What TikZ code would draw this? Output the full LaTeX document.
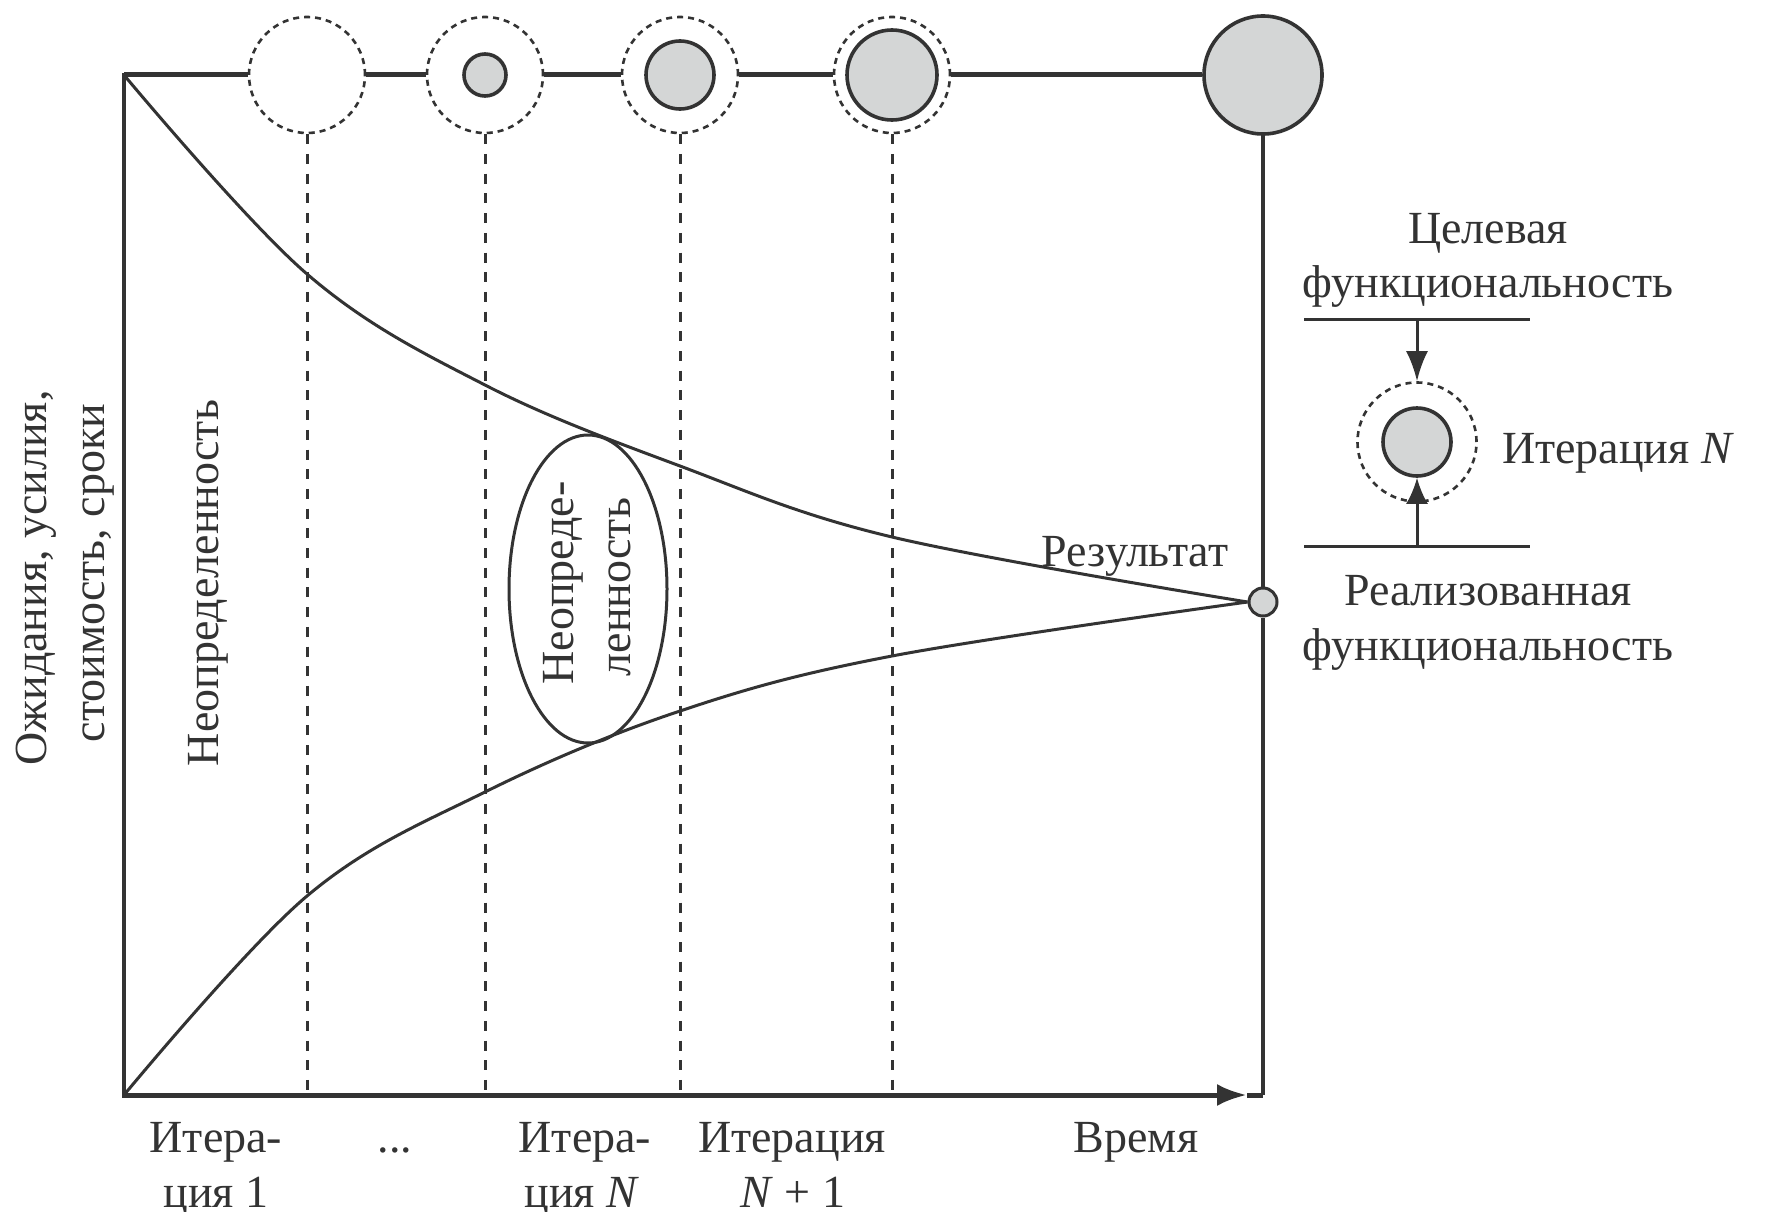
\documentclass[tikz,border=0pt]{standalone}
\usepackage{fontspec}
\setmainfont{Liberation Serif}
\usetikzlibrary{arrows.meta,shapes.geometric}
\definecolor{ink}{HTML}{333333}
\definecolor{disc}{HTML}{D4D6D6}
\tikzset{
  axisline/.style={draw=ink,line width=5pt},
  frameline/.style={draw=ink,line width=3.5pt},
  curveline/.style={draw=ink,line width=3pt},
  guide/.style={draw=ink,line width=3pt,dash pattern=on 10pt off 9.7pt},
  ring/.style={circle,draw=ink,fill=white,line width=2.6pt,dash pattern=on 6pt off 5pt,minimum size=#1,inner sep=0pt},
  core/.style={circle,draw=ink,fill=disc,line width=3.6pt,minimum size=#1,inner sep=0pt},
  lab/.style={text=ink,font=\fontsize{46}{54}\selectfont,inner sep=0pt,anchor=base},
  vlab/.style={text=ink,font=\fontsize{46}{54}\selectfont,inner sep=0pt,rotate=90,anchor=center},
  bigtip/.style={-{Latex[length=#1,width=22pt]}}
}
\begin{document}
\begin{tikzpicture}[x=1pt,y=-1pt]
\useasboundingbox (0,0) rectangle (1767,1212);
\coordinate (tl) at (124,75);
\coordinate (bl) at (124,1095);
\coordinate (br) at (1263,1095);
\coordinate (axtip) at (1247,1095);
\coordinate (g1) at (307,1095);
\coordinate (g2) at (485,1095);
\coordinate (g3) at (680,1095);
\coordinate (g4) at (892,1095);
\coordinate (u1) at (307,274);
\coordinate (u2) at (485,385);
\coordinate (u3) at (680,466);
\coordinate (u4) at (892,537);
\coordinate (l1) at (307,896);
\coordinate (l2) at (485,792);
\coordinate (l3) at (680,711);
\coordinate (l4) at (892,656);
% top line and circles
\node[ring=116pt] (c1) at (307,75) {};
\node[ring=116pt] (c2) at (485,75) {};
\node[core=42pt] (d2) at (485,75) {};
\node[ring=116pt] (c3) at (680,75) {};
\node[core=68pt] (d3) at (680,75) {};
\node[ring=116pt] (c4) at (892,75) {};
\node[core=90pt] (d4) at (892,75) {};
\node[core=118pt] (c5) at (1263,75) {};
\node[circle,draw=ink,fill=disc,line width=3pt,minimum size=28pt,inner sep=0pt] (res) at (1263,602) {};
\draw[axisline] (tl) -- (c1.west);
\draw[axisline] (c1.east) -- (c2.west);
\draw[axisline] (c2.east) -- (c3.west);
\draw[axisline] (c3.east) -- (c4.west);
\draw[axisline] (c4.east) -- (c5.west);
% frame
\draw[frameline,line cap=rect] (tl) -- (bl);
\draw[frameline] (c5.south) -- (res.north);
\draw[frameline] (res.south) -- (br);
% guides
\draw[guide] (c1.south) -- (g1);
\draw[guide] (c2.south) -- (g2);
\draw[guide] (c3.south) -- (g3);
\draw[guide] (c4.south) -- (g4);
% axis
\draw[axisline,line cap=rect,bigtip=30pt] (bl) -- (axtip);
\draw[axisline] (axtip) -- (br);
% curves
\draw[curveline] plot[smooth,tension=0.6] coordinates {(tl) (u1) (u2) (u3) (u4) (res.west)};
\draw[curveline] plot[smooth,tension=0.6] coordinates {(bl) (l1) (l2) (l3) (l4) (res.west)};
% ellipse
\node[ellipse,draw=ink,line width=3pt,minimum width=158pt,minimum height=308pt,inner sep=0pt] (unc) at (588,589) {};
\node[vlab] (unc1) at (563,583) {Неопреде-};
\node[vlab] (unc2) at (620,587) {ленность};
% left labels
\node[vlab] (yl1) at (36,578) {Ожидания, усилия,};
\node[vlab] (yl2) at (99,573) {стоимость, сроки};
\node[vlab] (un) at (208,583) {Неопределенность};
\node[lab] (rs) at (1135,566) {Результат};
% legend
\node[lab] (t1) at (1488,243) {Целевая};
\node[lab] (t2) at (1488,297) {функциональность};
\coordinate (tb1) at (1304,319);
\coordinate (tb2) at (1530,319);
\coordinate (tm) at (1417,319);
\coordinate (bb1) at (1304,546);
\coordinate (bb2) at (1530,546);
\coordinate (bm) at (1417,546);
\draw[curveline] (tb1) -- (tb2);
\draw[curveline] (bb1) -- (bb2);
\node[ring=119pt,fill=none] (lo) at (1417,442) {};
\node[core=68pt] (li) at (1417,442) {};
\draw[curveline,bigtip=30pt] (tm) -- (lo.north);
\draw[curveline,bigtip=26pt] (bm) -- (li.south);
\node[lab,anchor=base west] (ln) at (1502,463) {Итерация \textit{N}};
\node[lab] (b1) at (1488,605) {Реализованная};
\node[lab] (b2) at (1488,660) {функциональность};
% bottom labels
\node[lab] (i1) at (216,1152) {Итера-};
\node[lab] (i1b) at (216,1207) {ция 1};
\node[lab] (dots) at (395,1152) {...};
\node[lab] (i2) at (585,1152) {Итера-};
\node[lab] (i2b) at (582,1207) {ция \textit{N}};
\node[lab] (i3) at (792,1152) {Итерация};
\node[lab] (i3b) at (793,1207) {\textit{N} + 1};
\node[lab] (tm2) at (1136,1152) {Время};
\end{tikzpicture}
\end{document}
